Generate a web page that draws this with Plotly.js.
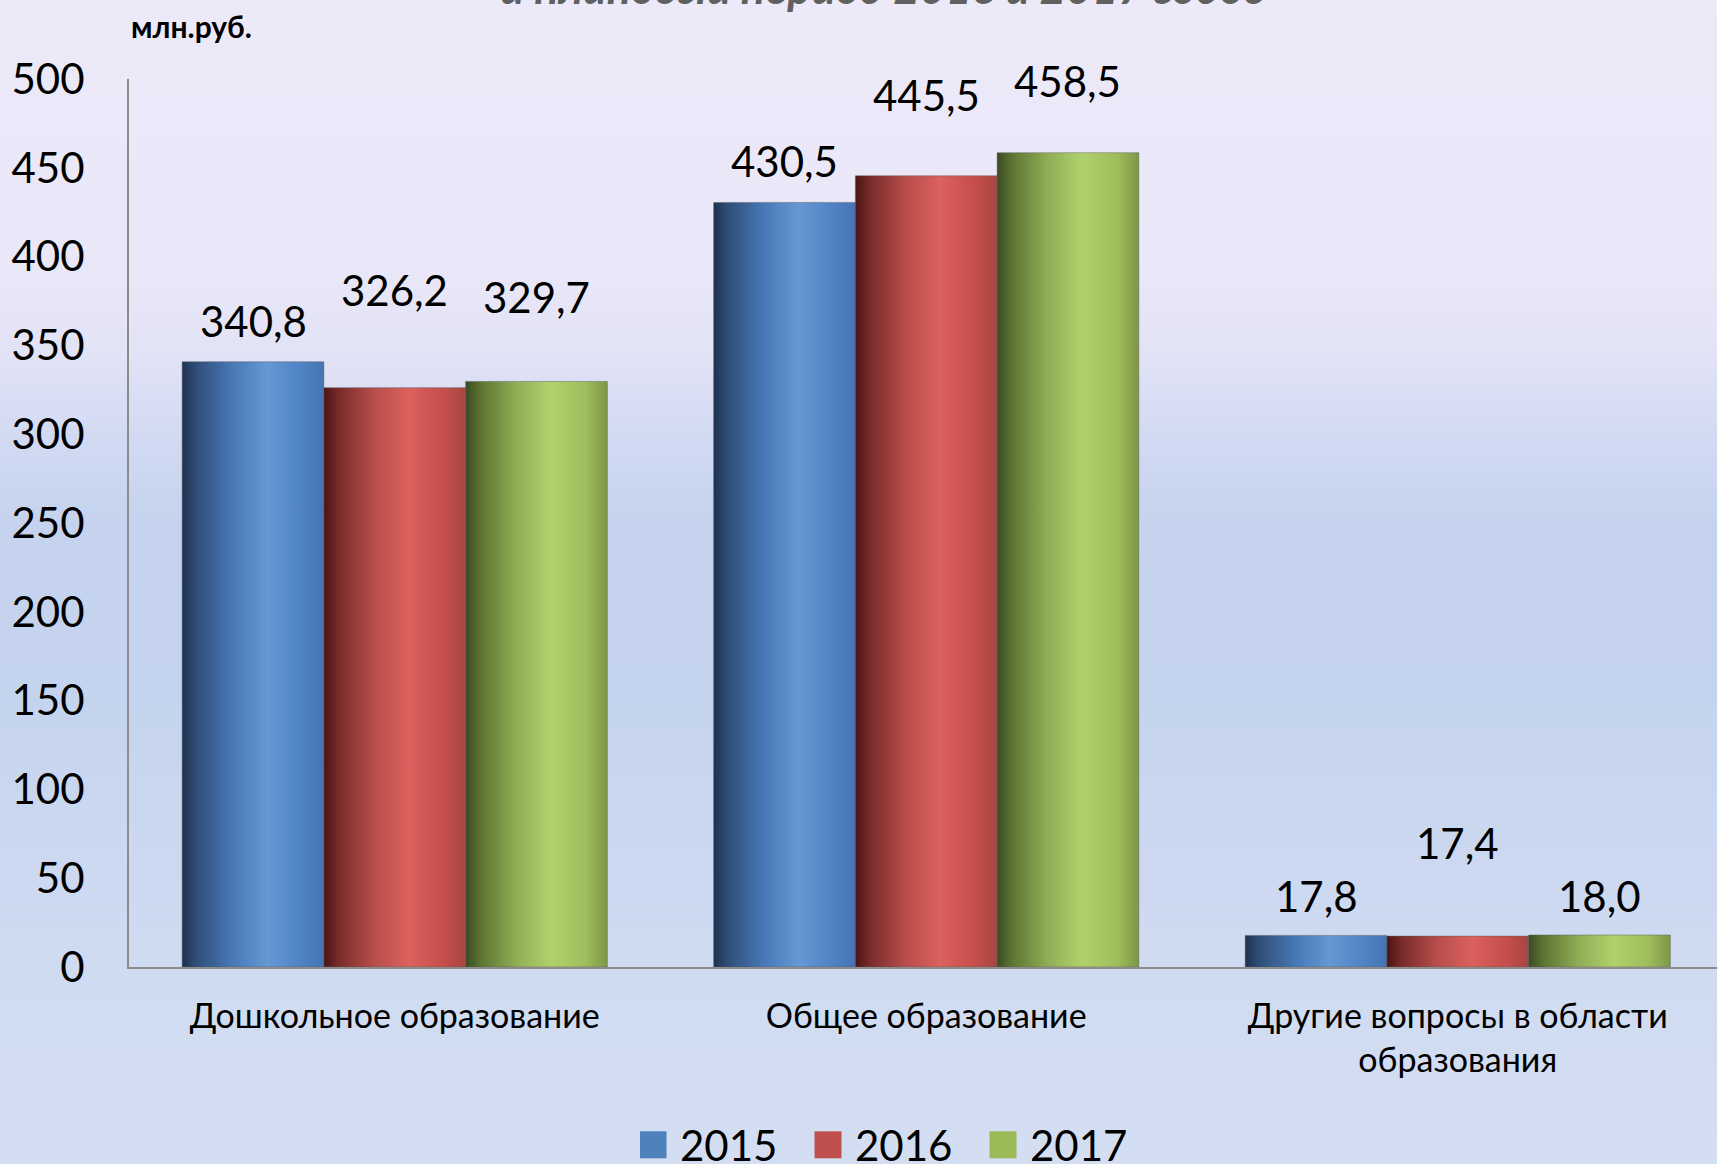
<!DOCTYPE html>
<html>
<head>
<meta charset="utf-8">
<script src="https://cdn.plot.ly/plotly-3.0.1.min.js"></script>
<style>
  html, body { margin: 0; padding: 0; }
  body {
    width: 1717px; height: 1164px; overflow: hidden;
    background: linear-gradient(180deg, #eceaf9 0px, #eae8f8 260px, #e3e3f6 350px, #d3dbf3 430px, #c5d3ee 520px, #c5d4ee 700px, #cbd8f0 850px, #d0dcf1 1000px, #d4def2 1164px);
  }
  #chart { width: 1717px; height: 1164px; }
</style>
</head>
<body>
<div id="chart"></div>
<script>
// ---- data ----
const categories = ['Дошкольное образование', 'Общее образование', 'Другие вопросы в области<br>образования'];
const years = ['2015', '2016', '2017'];
const values2015 = [340.8, 430.5, 17.8];
const values2016 = [326.2, 445.5, 17.4];
const values2017 = [329.7, 458.5, 18.0];
const yTickVals = [0, 50, 100, 150, 200, 250, 300, 350, 400, 450, 500];
const unitLabel = 'млн.руб.';
const titleText = 'и плановый период 2016 и 2017 годов';

// ---- styles ----
const seriesColors = ['#4f81bd', '#c0504d', '#9bbb59'];
const gradientStops = [
  [[0, '#1e3150'], [0.1, '#2f4e78'], [0.35, '#4877b5'], [0.6, '#6698d4'], [0.85, '#4f82c4'], [1, '#4673b2']],
  [[0, '#4a1414'], [0.1, '#782a2a'], [0.35, '#b74d4b'], [0.6, '#db615d'], [0.85, '#c44e4a'], [1, '#a74541']],
  [[0, '#3a4a22'], [0.1, '#5b7331'], [0.35, '#8ead55'], [0.6, '#b0d26c'], [0.85, '#9ebd5c'], [1, '#7d9647']]
];
// vertical lift (px) of each data label's centre above its bar top
const labelLift = [[41, 41, 39], [98, 81, 93], [84, 72, 39]];

const W = 1717, H = 1164;
const margin = {l: 129, r: 0, t: 79, b: 197, pad: 0};
const plotW = W - margin.l - margin.r;
const plotH = H - margin.t - margin.b;
const catPx = 531.5;
const xSpan = plotW / catPx;
const barPx = catPx * 0.8 / 3;

const seriesValues = [values2015, values2016, values2017];
const fontFamily = 'Lato, "Open Sans", "DejaVu Sans", sans-serif';

const data = seriesValues.map((vals, t) => ({
  type: 'bar',
  name: years[t],
  x: categories,
  y: vals,
  marker: {color: seriesColors[t], line: {width: 1, color: 'rgba(90,90,90,0.45)'}},
  hoverinfo: 'skip'
}));

const fmt = v => v.toFixed(1).replace('.', ',');

const annotations = [];
seriesValues.forEach((vals, t) => {
  vals.forEach((v, i) => {
    annotations.push({
      xref: 'x', yref: 'y', x: categories[i], y: v,
      xshift: (t - 1) * barPx, yshift: labelLift[t][i],
      xanchor: 'center', yanchor: 'middle',
      text: fmt(v), showarrow: false,
      font: {family: fontFamily, size: 42, color: '#000000'}
    });
  });
});
annotations.push({
  xref: 'paper', yref: 'paper', x: 0.0, y: (H - margin.b - 26) / plotH,
  xanchor: 'left', yanchor: 'middle', showarrow: false,
  text: '<b>' + unitLabel + '</b>',
  font: {family: fontFamily, size: 30, color: '#000000'}
});
annotations.push({
  xref: 'paper', yref: 'paper', x: (882 - 129) / plotW, y: (H - margin.b + 13) / plotH,
  xanchor: 'center', yanchor: 'middle', showarrow: false,
  text: '<b><i>' + titleText + '</i></b>',
  font: {family: fontFamily, size: 45, color: '#606060'}
});

const layout = {
  width: W, height: H,
  margin: margin,
  paper_bgcolor: 'rgba(0,0,0,0)',
  plot_bgcolor: 'rgba(0,0,0,0)',
  barmode: 'group',
  bargap: 0.2,
  bargroupgap: 0,
  font: {family: fontFamily, color: '#000000'},
  showlegend: true,
  legend: {
    orientation: 'h',
    xref: 'container', yref: 'container',
    x: 640 / W, xanchor: 'left',
    y: 1 - 1145 / H, yanchor: 'middle',
    font: {family: fontFamily, size: 42, color: '#000000'},
    entrywidth: 130, entrywidthmode: 'pixels',
    bgcolor: 'rgba(0,0,0,0)'
  },
  xaxis: {
    type: 'category',
    automargin: false,
    range: [-0.5, -0.5 + xSpan],
    showline: true, linecolor: '#8c8c8c', linewidth: 2,
    ticks: '', showgrid: false, zeroline: false,
    tickfont: {family: fontFamily, size: 34, color: '#000000'},
    ticklabelstandoff: 18
  },
  yaxis: {
    automargin: false,
    range: [0, 500],
    tickvals: yTickVals,
    ticktext: yTickVals.map(String),
    showline: true, linecolor: '#8c8c8c', linewidth: 2,
    ticks: '', showgrid: false, zeroline: false,
    tickfont: {family: fontFamily, size: 42, color: '#000000'},
    ticklabelstandoff: 34
  },
  annotations: annotations
};

Plotly.newPlot('chart', data, layout, {staticPlot: true, displayModeBar: false}).then(gd => {
  const ns = 'http://www.w3.org/2000/svg';
  const svg = gd.querySelector('.main-svg');
  let defs = svg.querySelector('defs');
  if (!defs) { defs = document.createElementNS(ns, 'defs'); svg.insertBefore(defs, svg.firstChild); }
  gradientStops.forEach((stops, idx) => {
    const lg = document.createElementNS(ns, 'linearGradient');
    lg.setAttribute('id', 'barGrad' + idx);
    lg.setAttribute('x1', '0'); lg.setAttribute('x2', '1');
    lg.setAttribute('y1', '0'); lg.setAttribute('y2', '0');
    stops.forEach(([o, c]) => {
      const s = document.createElementNS(ns, 'stop');
      s.setAttribute('offset', o);
      s.setAttribute('stop-color', c);
      lg.appendChild(s);
    });
    defs.appendChild(lg);
  });
  gd.querySelectorAll('.barlayer .trace').forEach((tr, idx) => {
    tr.querySelectorAll('path').forEach(p => { p.style.fill = 'url(#barGrad' + idx + ')'; });
  });
  gd.querySelectorAll('.legend .traces .legendpoints path').forEach(p => {
    p.setAttribute('d', 'M6.5,13.5H-20.5V-13.5H6.5Z');
    p.style.strokeWidth = '0';
  });
});
</script>
</body>
</html>
